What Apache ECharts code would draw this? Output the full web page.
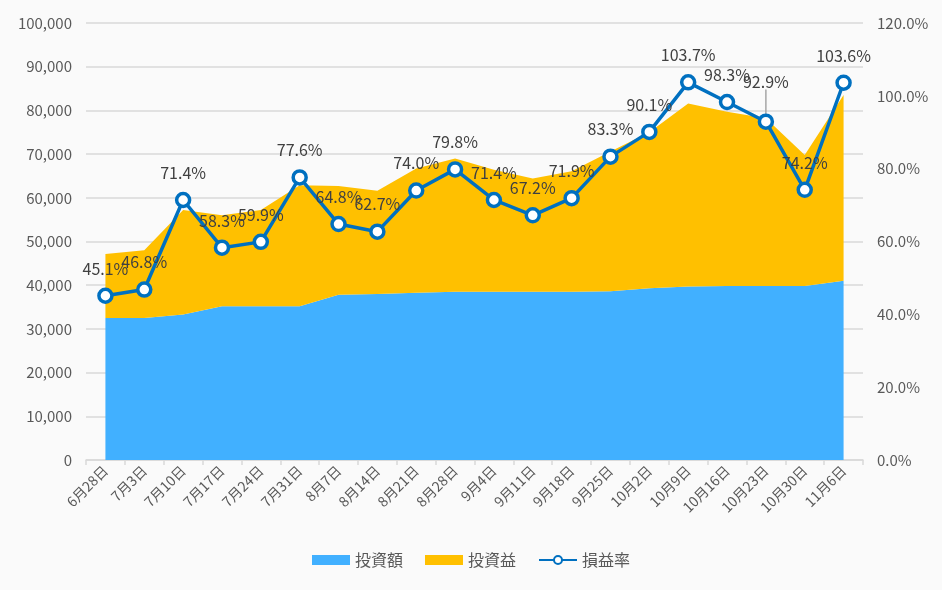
<!DOCTYPE html>
<html>
<head>
<meta charset="utf-8">
<script src="https://cdn.jsdelivr.net/npm/echarts@6/dist/echarts.min.js"></script>
<style>
html,body{margin:0;padding:0;background:#FAFAFA;}
#chart{width:942px;height:590px;}
</style>
</head>
<body>
<div id="chart"></div>
<script>
const categories = ['6月28日','7月3日','7月10日','7月17日','7月24日','7月31日','8月7日','8月14日','8月21日','8月28日','9月4日','9月11日','9月18日','9月25日','10月2日','10月9日','10月16日','10月23日','10月30日','11月6日'];
const investAmount = [32500, 32500, 33300, 35200, 35200, 35200, 37800, 38000, 38300, 38500, 38500, 38500, 38500, 38600, 39300, 39700, 39800, 39800, 39800, 41000];
const investProfit = [14650, 15500, 23900, 20800, 22000, 27700, 24900, 23600, 28400, 30500, 27900, 25900, 27600, 32000, 35700, 41900, 39900, 38400, 30000, 42500];
const profitRate = [45.1, 46.8, 71.4, 58.3, 59.9, 77.6, 64.8, 62.7, 74.0, 79.8, 71.4, 67.2, 71.9, 83.3, 90.1, 103.7, 98.3, 92.9, 74.2, 103.6];
const leftTicks = {min: 0, max: 100000, interval: 10000};
const rightTicks = {min: 0, max: 120, interval: 20};
const movedLabelIndex = 17;

const FONT = '"Noto Sans CJK JP", "Noto Sans", sans-serif';
const rateData = profitRate.map((v, i) => i === movedLabelIndex
  ? {value: v, labelLine: {show: true, lineStyle: {color: '#A6A6A6', width: 1.5}}}
  : {value: v});

const chart = echarts.init(document.getElementById('chart'));
chart.setOption({
  backgroundColor: '#FAFAFA',
  animation: false,
  textStyle: {fontFamily: FONT},
  grid: {left: 86, right: 79, top: 23, bottom: 130, containLabel: false},
  legend: {
    bottom: 17,
    left: 'center',
    itemWidth: 38,
    itemHeight: 10,
    itemGap: 22,
    textStyle: {color: '#595959', fontSize: 16, fontFamily: FONT},
    data: [
      {name: '投資額', icon: 'rect'},
      {name: '投資益', icon: 'rect'},
      {name: '損益率'}
    ]
  },
  xAxis: {
    type: 'category',
    data: categories,
    boundaryGap: true,
    axisLine: {show: true, lineStyle: {color: '#D9D9D9', width: 1.5}},
    axisTick: {show: true, alignWithLabel: false, length: 5, lineStyle: {color: '#D9D9D9', width: 1.5}},
    axisLabel: {rotate: 45, color: '#595959', fontSize: 14, margin: 8, interval: 0, fontFamily: FONT}
  },
  yAxis: [
    {
      type: 'value',
      min: leftTicks.min, max: leftTicks.max, interval: leftTicks.interval,
      axisLine: {show: false},
      axisTick: {show: false},
      splitLine: {lineStyle: {color: '#D9D9D9', width: 1.5}},
      axisLabel: {color: '#595959', fontSize: 15, margin: 14, fontFamily: FONT,
        formatter: v => v.toLocaleString('en-US')}
    },
    {
      type: 'value',
      min: rightTicks.min, max: rightTicks.max, interval: rightTicks.interval,
      axisLine: {show: false},
      axisTick: {show: false},
      splitLine: {show: false},
      axisLabel: {color: '#595959', fontSize: 15, margin: 14, fontFamily: FONT,
        formatter: v => v.toFixed(1) + '%'}
    }
  ],
  series: [
    {
      name: '投資額',
      type: 'line',
      stack: 'total',
      data: investAmount,
      symbol: 'none',
      lineStyle: {width: 0},
      itemStyle: {color: '#41B0FF'},
      areaStyle: {color: '#41B0FF', opacity: 1},
      z: 1
    },
    {
      name: '投資益',
      type: 'line',
      stack: 'total',
      data: investProfit,
      symbol: 'none',
      lineStyle: {width: 0},
      itemStyle: {color: '#FFC000'},
      areaStyle: {color: '#FFC000', opacity: 1},
      z: 1
    },
    {
      name: '損益率',
      type: 'line',
      yAxisIndex: 1,
      data: rateData,
      symbol: 'circle',
      symbolSize: 13,
      showAllSymbol: true,
      lineStyle: {color: '#0070C0', width: 3.5},
      itemStyle: {color: '#FFFFFF', borderColor: '#0070C0', borderWidth: 3.5},
      label: {
        show: true, position: 'top', distance: 11,
        color: '#404040', fontSize: 16, fontFamily: FONT,
        formatter: p => p.value.toFixed(1) + '%'
      },
      labelLayout: function (params) {
        if (params.dataIndex === movedLabelIndex) {
          return {dy: -13};
        }
        return {};
      },
      z: 3
    }
  ]
});
</script>
</body>
</html>
